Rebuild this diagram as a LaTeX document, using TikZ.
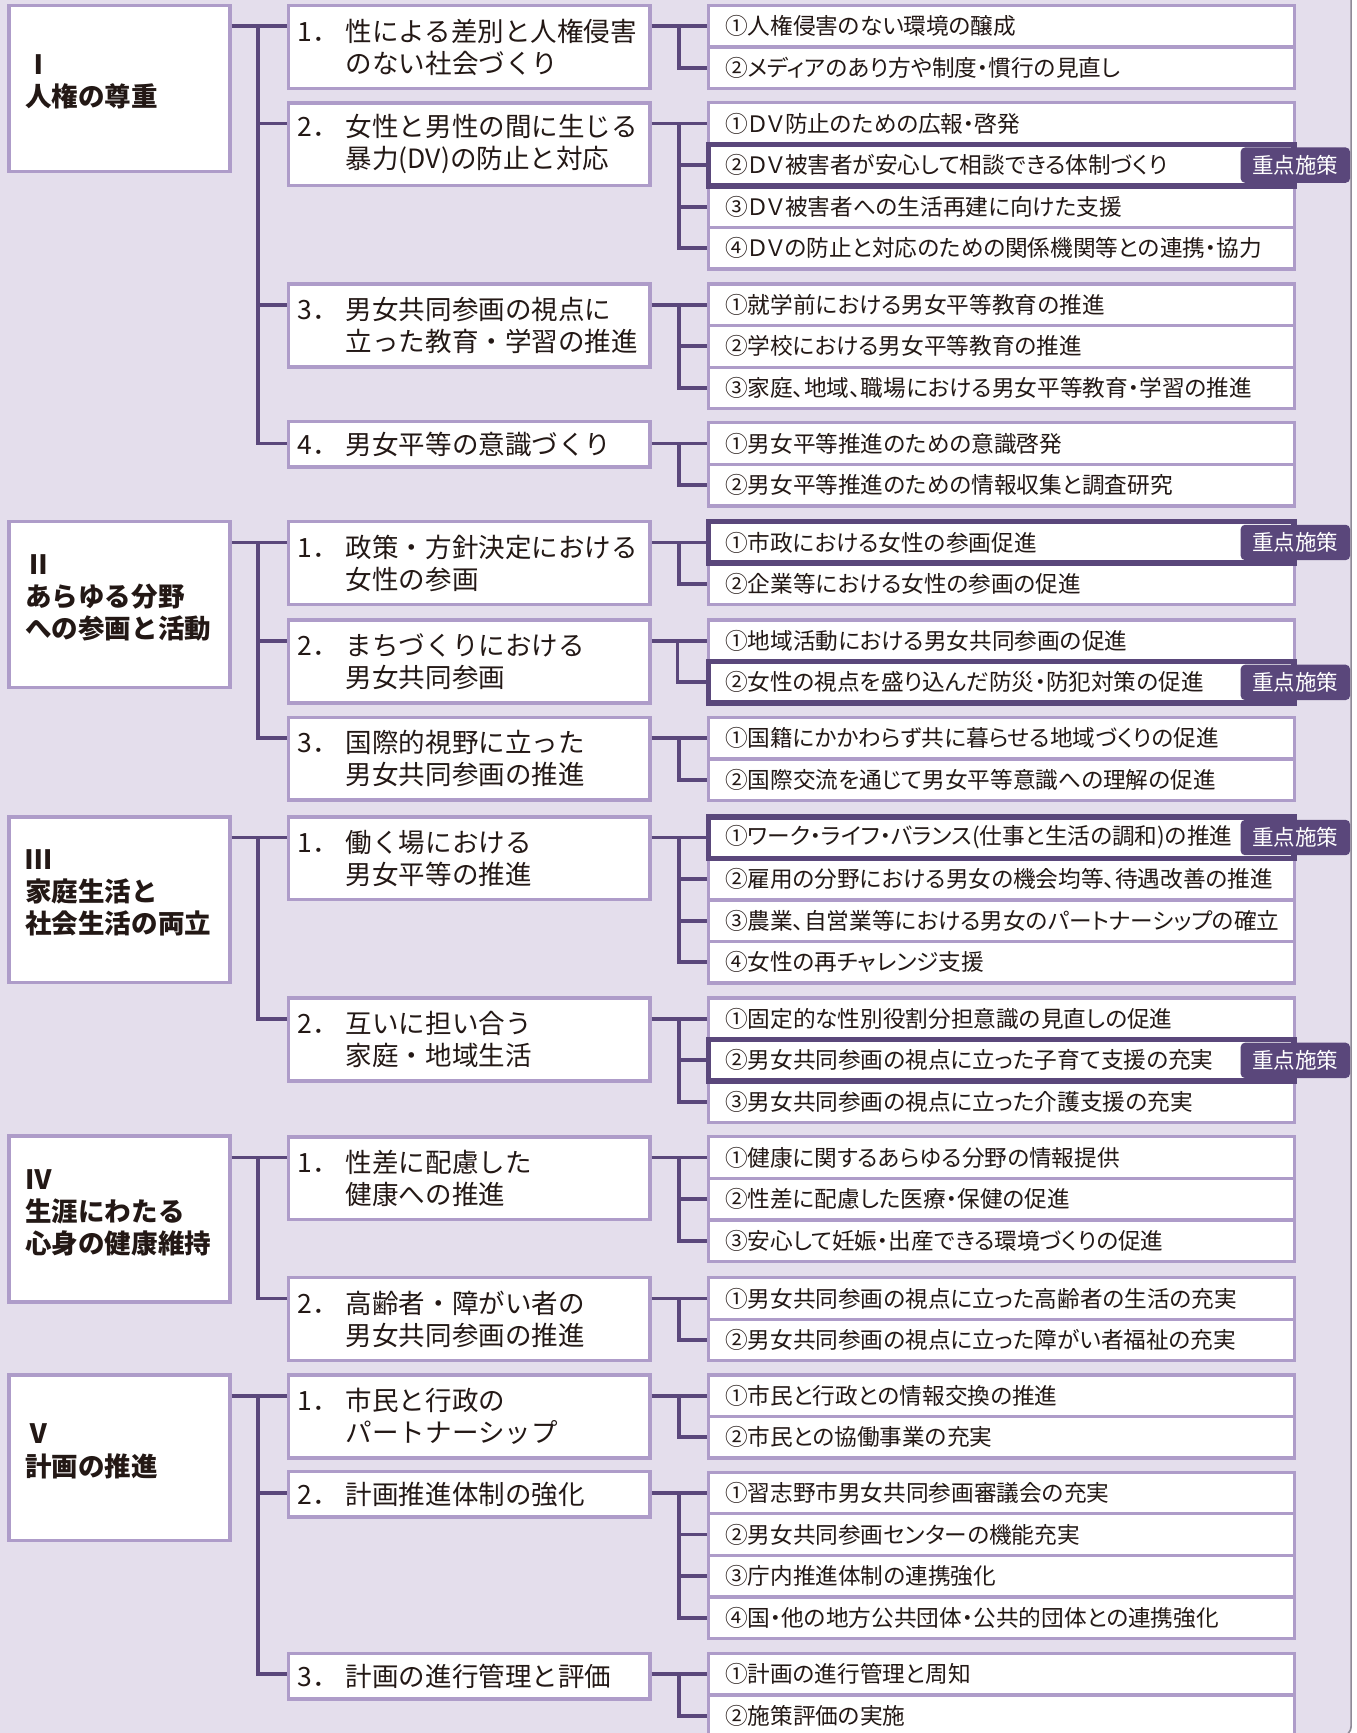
\documentclass[tikz,border=0pt]{standalone}
\usepackage{fontspec}
\setmainfont{Noto Sans CJK JP}
\newfontfamily\rowfont[RawFeature=+palt]{Noto Sans CJK JP}
\definecolor{bgpurple}{HTML}{E4DEEC}
\definecolor{boxpurple}{HTML}{AE9CC9}
\definecolor{linepurple}{HTML}{5A477B}
\definecolor{framegray}{HTML}{8F8A97}
\definecolor{inkblack}{HTML}{231815}
\tikzstyle{conn} = [draw=linepurple, line width=3.5pt]

\begin{document}
\begin{tikzpicture}[x=1pt, y=-1pt,
   sect/.style={rectangle, draw=boxpurple, line width=3.2pt, fill=white, text=inkblack,
     minimum width=200pt, minimum height=150pt, text width=170pt, inner xsep=15pt,
     align=left, font=\bfseries\fontsize{24}{29}\selectfont},
   mid/.style={rectangle, draw=boxpurple, line width=3.2pt, fill=white, text=inkblack,
     minimum height=75pt, text width=311pt, inner xsep=8pt, inner ysep=0pt,
     align=left, font=\fontsize{24}{29}\selectfont},
   row/.style={rectangle, draw=boxpurple, line width=3pt, fill=white, text=inkblack,
     minimum height=37.6pt, text width=500pt, inner xsep=15pt, inner ysep=0pt,
     align=left, font=\rowfont\fontsize{20.5}{24}\selectfont},
   keyrow/.style={row, draw=linepurple, line width=5pt},
   badge/.style={rectangle, rounded corners=4pt, fill=linepurple, text=white,
     minimum width=99pt, minimum height=32pt, inner sep=0pt, font=\fontsize{19.5}{22}\selectfont}]
\useasboundingbox (0,0) rectangle (1227,1568);
\path[fill=bgpurple, draw=framegray, line width=1.5pt, rounded corners=9pt] (-20,-20) rectangle (1222.5,1571);

% I
\node[sect] (sec1) at (108, 80) {Ⅰ\\人権の尊重\\[-15pt]\mbox{}};
\node[mid] (m11) at (424.5, 42.5) {\makebox[44pt][l]{1．}性による差別と人権侵害\\\hspace*{44pt}のない社会づくり};
\node[mid] (m12) at (424.5, 130.5) {\makebox[44pt][l]{2．}女性と男性の間に生じる\\\hspace*{44pt}暴力(DV)の防止と対応};
\node[mid] (m13) at (424.5, 294.5) {\makebox[44pt][l]{3．}男女共同参画の視点に\\\hspace*{44pt}立った教育・学習の推進};
\node[mid, minimum height=41pt] (m14) at (424.5, 402) {\makebox[44pt][l]{4．}男女平等の意識づくり};

\node[row] (r111) at (906, 23.8) {①人権侵害のない環境の醸成};
\node[row] (r112) at (906, 61.4) {②メディアのあり方や制度・慣行の見直し};

\node[row] (r121) at (906, 111.8) {①ＤＶ防止のための広報・啓発};
\node[row] (r123) at (906, 187.0) {③ＤＶ被害者への生活再建に向けた支援};
\node[row] (r124) at (906, 224.6) {④ＤＶの防止と対応のための関係機関等との連携・協力};
\node[keyrow] (r122) at (906, 149.4) {②ＤＶ被害者が安心して相談できる体制づくり};
\node[badge] (b122) at ([xshift=-1.5pt]r122.east) {重点施策};

\node[row] (r131) at (906, 275.8) {①就学前における男女平等教育の推進};
\node[row] (r132) at (906, 313.4) {②学校における男女平等教育の推進};
\node[row] (r133) at (906, 351.0) {③家庭、地域、職場における男女平等教育・学習の推進};

\node[row] (r141) at (906, 401.3) {①男女平等推進のための意識啓発};
\node[row] (r142) at (906, 438.9) {②男女平等推進のための情報収集と調査研究};

% II
\node[sect] (sec2) at (108, 547) {Ⅱ\\あらゆる分野\\への参画と活動\\[-15pt]\mbox{}};
\node[mid] (m21) at (424.5, 509.5) {\makebox[44pt][l]{1．}政策・方針決定における\\\hspace*{44pt}女性の参画};
\node[mid] (m22) at (424.5, 598.5) {\makebox[44pt][l]{2．}まちづくりにおける\\\hspace*{44pt}男女共同参画};
\node[mid] (m23) at (424.5, 686.5) {\makebox[44pt][l]{3．}国際的視野に立った\\\hspace*{44pt}男女共同参画の推進};

\node[row] (r212) at (906, 528.4) {②企業等における女性の参画の促進};
\node[keyrow] (r211) at (906, 490.8) {①市政における女性の参画促進};
\node[badge] (b211) at ([xshift=-1.5pt]r211.east) {重点施策};

\node[row] (r221) at (906, 579.8) {①地域活動における男女共同参画の促進};
\node[keyrow] (r222) at (906, 617.4) {②女性の視点を盛り込んだ防災・防犯対策の促進};
\node[badge] (b222) at ([xshift=-1.5pt]r222.east) {重点施策};

\node[row] (r231) at (906, 667.8) {①国籍にかかわらず共に暮らせる地域づくりの促進};
\node[row] (r232) at (906, 705.4) {②国際交流を通じて男女平等意識への理解の促進};

% III
\node[sect] (sec3) at (108, 814) {Ⅲ\\家庭生活と\\社会生活の両立\\[-15pt]\mbox{}};
\node[mid] (m31) at (424.5, 776.5) {\makebox[44pt][l]{1．}働く場における\\\hspace*{44pt}男女平等の推進};
\node[mid] (m32) at (424.5, 940.5) {\makebox[44pt][l]{2．}互いに担い合う\\\hspace*{44pt}家庭・地域生活};

\node[row] (r312) at (906, 795.4) {②雇用の分野における男女の機会均等、待遇改善の推進};
\node[row] (r313) at (906, 833.0) {③農業、自営業等における男女のパートナーシップの確立};
\node[row] (r314) at (906, 870.6) {④女性の再チャレンジ支援};
\node[keyrow] (r311) at (906, 757.8) {①ワーク・ライフ・バランス(仕事と生活の調和)の推進};
\node[badge] (b311) at ([xshift=-1.5pt]r311.east) {重点施策};

\node[row] (r321) at (906, 921.8) {①固定的な性別役割分担意識の見直しの促進};
\node[row] (r323) at (906, 997.0) {③男女共同参画の視点に立った介護支援の充実};
\node[keyrow] (r322) at (906, 959.4) {②男女共同参画の視点に立った子育て支援の充実};
\node[badge] (b322) at ([xshift=-1.5pt]r322.east) {重点施策};

% IV
\node[sect] (sec4) at (108, 1103) {Ⅳ\\生涯にわたる\\心身の健康維持\\[-15pt]\mbox{}};
\node[mid] (m41) at (424.5, 1066) {\makebox[44pt][l]{1．}性差に配慮した\\\hspace*{44pt}健康への推進};
\node[mid] (m42) at (424.5, 1193.5) {\makebox[44pt][l]{2．}高齢者・障がい者の\\\hspace*{44pt}男女共同参画の推進};

\node[row] (r411) at (906, 1047.3) {①健康に関するあらゆる分野の情報提供};
\node[row] (r412) at (906, 1084.9) {②性差に配慮した医療・保健の促進};
\node[row] (r413) at (906, 1122.5) {③安心して妊娠・出産できる環境づくりの促進};

\node[row] (r421) at (906, 1174.8) {①男女共同参画の視点に立った高齢者の生活の充実};
\node[row] (r422) at (906, 1212.4) {②男女共同参画の視点に立った障がい者福祉の充実};

% V
\node[sect] (sec5) at (108, 1319) {Ⅴ\\計画の推進\\[-15pt]\mbox{}};
\node[mid] (m51) at (424.5, 1281.5) {\makebox[44pt][l]{1．}市民と行政の\\\hspace*{44pt}パートナーシップ};
\node[mid, minimum height=41pt] (m52) at (424.5, 1352) {\makebox[44pt][l]{2．}計画推進体制の強化};
\node[mid, minimum height=41pt] (m53) at (424.5, 1516.5) {\makebox[44pt][l]{3．}計画の進行管理と評価};

\node[row] (r511) at (906, 1262.8) {①市民と行政との情報交換の推進};
\node[row] (r512) at (906, 1300.4) {②市民との協働事業の充実};

\node[row] (r521) at (906, 1350.8) {①習志野市男女共同参画審議会の充実};
\node[row] (r522) at (906, 1388.4) {②男女共同参画センターの機能充実};
\node[row] (r523) at (906, 1426.0) {③庁内推進体制の連携強化};
\node[row] (r524) at (906, 1463.6) {④国・他の地方公共団体・公共的団体との連携強化};

\node[row] (r531) at (906, 1514.8) {①計画の進行管理と周知};
\node[row] (r532) at (906, 1552.4) {②施策評価の実施};

% trunks, left side
\draw[conn] (sec1.east |- r111) -- (m11.west |- r111);
\draw[conn] (m14.west |- r141) -- ++(-26pt,0) |- (sec1.east |- r111);
\draw[conn] (m12.west |- r121) -- ++(-26pt,0);
\draw[conn] (m13.west |- r131) -- ++(-26pt,0);

\draw[conn] (sec2.east |- r211) -- (m21.west |- r211);
\draw[conn] (m23.west |- r231) -- ++(-26pt,0) |- (sec2.east |- r211);
\draw[conn] (m22.west |- r221) -- ++(-26pt,0);

\draw[conn] (sec3.east |- r311) -- (m31.west |- r311);
\draw[conn] (m32.west |- r321) -- ++(-26pt,0) |- (sec3.east |- r311);

\draw[conn] (sec4.east |- r411) -- (m41.west |- r411);
\draw[conn] (m42.west |- r421) -- ++(-26pt,0) |- (sec4.east |- r411);

\draw[conn] (sec5.east |- r511) -- (m51.west |- r511);
\draw[conn] (m53.west |- r531) -- ++(-26pt,0) |- (sec5.east |- r511);
\draw[conn] (m52.west |- r521) -- ++(-26pt,0);

% branches, right side
\draw[conn] (m11.east |- r111) -- (r111.west);
\draw[conn] (r112.west) -- ++(-25.5pt,0) |- (r111.west);

\draw[conn] (m12.east |- r121) -- (r121.west);
\draw[conn] (r124.west) -- ++(-25.5pt,0) |- (r121.west);
\draw[conn] (r122.west) -- ++(-25.5pt,0);
\draw[conn] (r123.west) -- ++(-25.5pt,0);

\draw[conn] (m13.east |- r131) -- (r131.west);
\draw[conn] (r133.west) -- ++(-25.5pt,0) |- (r131.west);
\draw[conn] (r132.west) -- ++(-25.5pt,0);

\draw[conn] (m14.east |- r141) -- (r141.west);
\draw[conn] (r142.west) -- ++(-25.5pt,0) |- (r141.west);

\draw[conn] (m21.east |- r211) -- (r211.west);
\draw[conn] (r212.west) -- ++(-25.5pt,0) |- (r211.west);

\draw[conn] (m22.east |- r221) -- (r221.west);
\draw[conn] (r222.west) -- ++(-25.5pt,0) |- (r221.west);

\draw[conn] (m23.east |- r231) -- (r231.west);
\draw[conn] (r232.west) -- ++(-25.5pt,0) |- (r231.west);

\draw[conn] (m31.east |- r311) -- (r311.west);
\draw[conn] (r314.west) -- ++(-25.5pt,0) |- (r311.west);
\draw[conn] (r312.west) -- ++(-25.5pt,0);
\draw[conn] (r313.west) -- ++(-25.5pt,0);

\draw[conn] (m32.east |- r321) -- (r321.west);
\draw[conn] (r323.west) -- ++(-25.5pt,0) |- (r321.west);
\draw[conn] (r322.west) -- ++(-25.5pt,0);

\draw[conn] (m41.east |- r411) -- (r411.west);
\draw[conn] (r413.west) -- ++(-25.5pt,0) |- (r411.west);
\draw[conn] (r412.west) -- ++(-25.5pt,0);

\draw[conn] (m42.east |- r421) -- (r421.west);
\draw[conn] (r422.west) -- ++(-25.5pt,0) |- (r421.west);

\draw[conn] (m51.east |- r511) -- (r511.west);
\draw[conn] (r512.west) -- ++(-25.5pt,0) |- (r511.west);

\draw[conn] (m52.east |- r521) -- (r521.west);
\draw[conn] (r524.west) -- ++(-25.5pt,0) |- (r521.west);
\draw[conn] (r522.west) -- ++(-25.5pt,0);
\draw[conn] (r523.west) -- ++(-25.5pt,0);

\draw[conn] (m53.east |- r531) -- (r531.west);
\draw[conn] (r532.west) -- ++(-25.5pt,0) |- (r531.west);
\end{tikzpicture}
\end{document}
